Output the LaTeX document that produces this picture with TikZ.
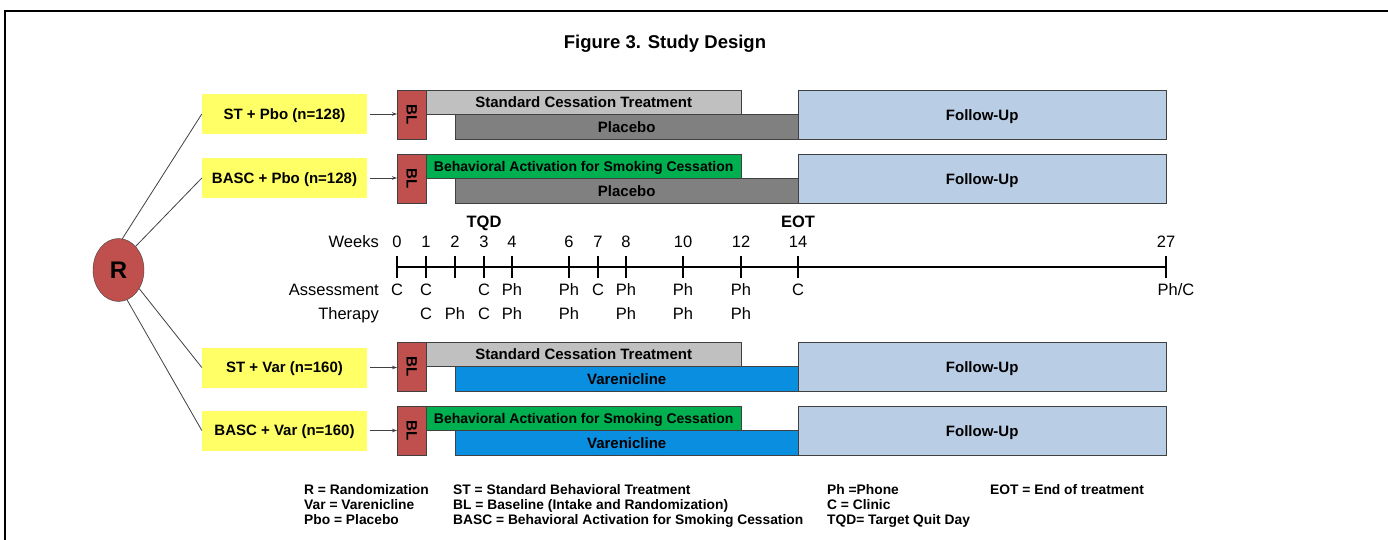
\documentclass[tikz,border=0pt]{standalone}
\usepackage{fontspec}
\setmainfont{Liberation Sans}
\usetikzlibrary{shapes.geometric,arrows.meta,positioning}
\definecolor{blred}{HTML}{C0504D}
\definecolor{armyellow}{HTML}{FFFF66}
\definecolor{stgray}{HTML}{C0C0C0}
\definecolor{pbogray}{HTML}{808080}
\definecolor{bascgreen}{HTML}{00B050}
\definecolor{varblue}{HTML}{0A8FE0}
\definecolor{fublue}{HTML}{B9CDE5}
\definecolor{edge}{HTML}{404040}

\begin{document}
\begin{tikzpicture}[x=1pt, y=-1pt,
    arm/.style={rectangle, fill=armyellow, minimum width=165pt, minimum height=40pt,
                inner sep=0pt, text height=10.8pt, text depth=0pt,
                font=\fontsize{15}{18}\selectfont\bfseries},
    bl/.style={rectangle, draw=edge, fill=blred, minimum width=29pt, minimum height=49pt,
               inner sep=0pt, anchor=north west, font=\fontsize{15}{18}\selectfont\bfseries},
    tx/.style={rectangle, draw=edge, minimum width=315pt, minimum height=24pt,
               inner sep=0pt, anchor=north west, text height=10.8pt, text depth=0pt,
               font=\fontsize{15}{18}\selectfont\bfseries},
    drug/.style={rectangle, draw=edge, minimum width=343pt, minimum height=25pt,
                 inner sep=0pt, anchor=north west, text height=10.8pt, text depth=0pt,
                 font=\fontsize{15}{18}\selectfont\bfseries},
    fu/.style={rectangle, draw=edge, fill=fublue, minimum width=368pt, minimum height=49pt,
               inner sep=0pt, anchor=north west, text height=10.8pt, text depth=0pt,
               font=\fontsize{15}{18}\selectfont\bfseries},
    link/.style={draw=edge, line width=0.8pt},
    wk/.style={inner sep=0pt, text height=11.8pt, text depth=0pt,
               font=\fontsize{16.5}{18}\selectfont},
    wkhead/.style={wk, font=\fontsize{16.5}{18}\selectfont\bfseries},
    legend/.style={align=left, anchor=north west, inner sep=0pt,
                   font=\fontsize{13.8}{15}\selectfont\bfseries},
]
\useasboundingbox (0,0) rectangle (1388,540);
\draw[line width=1.5pt] (5,540) -- (5,11) -- (1388,11);

\node[inner sep=0pt, text height=13.2pt, text depth=0pt,
      font=\fontsize{18.5}{22}\selectfont\bfseries] (title) at (665,42) {Figure 3. Study Design};

\node[ellipse, draw=edge, fill=blred, minimum width=51pt, minimum height=63pt, inner sep=0pt,
      font=\fontsize{24}{27}\selectfont\bfseries] (R) at (118.5,270) {R};

\node[arm] (arm1) at (284.5,114) {ST + Pbo (n=128)};
\node[bl] (bl1) at (397,90) {\rotatebox{-90}{BL}};
\node[tx, fill=stgray] (tx1) at (426,90) {Standard Cessation Treatment};
\node[drug, fill=pbogray] (drug1) at (455,114) {Placebo};
\node[fu] (fu1) at (798,90) {Follow-Up};

\node[arm] (arm2) at (284.5,178) {BASC + Pbo (n=128)};
\node[bl] (bl2) at (397,154) {\rotatebox{-90}{BL}};
\node[tx, fill=bascgreen, font=\fontsize{14}{17}\selectfont\bfseries] (tx2) at (426,154) {Behavioral Activation for Smoking Cessation};
\node[drug, fill=pbogray] (drug2) at (455,178) {Placebo};
\node[fu] (fu2) at (798,154) {Follow-Up};

\node[arm] (arm3) at (284.5,367.5) {ST + Var (n=160)};
\node[bl] (bl3) at (397,342) {\rotatebox{-90}{BL}};
\node[tx, fill=stgray] (tx3) at (426,342) {Standard Cessation Treatment};
\node[drug, fill=varblue] (drug3) at (455,366) {Varenicline};
\node[fu] (fu3) at (798,342) {Follow-Up};

\node[arm] (arm4) at (284.5,430.5) {BASC + Var (n=160)};
\node[bl] (bl4) at (397,406) {\rotatebox{-90}{BL}};
\node[tx, fill=bascgreen, font=\fontsize{14}{17}\selectfont\bfseries] (tx4) at (426,406) {Behavioral Activation for Smoking Cessation};
\node[drug, fill=varblue] (drug4) at (455,430) {Varenicline};
\node[fu] (fu4) at (798,406) {Follow-Up};

\draw[link] (R.83) -- (arm1.west);
\draw[link] (R.54) -- (arm2.west);
\draw[link] (R.-42) -- (arm3.west);
\draw[link] (R.-74) -- (arm4.west);
\foreach \i in {1,2,3,4}
  \draw[link, -{Stealth[length=5pt,width=3.5pt]}, shorten <=3pt] (arm\i.east) -- (bl\i.west |- arm\i.east);

\node[wk, anchor=east] (weeks) at (379,242) {Weeks};
\node[wk, anchor=east] (assess) at (379,290) {Assessment};
\node[wk, anchor=east] (therapy) at (379,314) {Therapy};

\foreach \w/\x in {0/397,1/426,2/455,3/484,4/512,6/569,7/598,8/626,10/683,12/741,14/798,27/1166} {
  \coordinate (t\w) at (\x,267);
  \node[wk] (w\w) at (\x,242) {\w};
}
\draw[line width=2.5pt] (t0) -- (t27);
\foreach \w in {0,1,2,3,4,6,7,8,10,12,14,27}
  \draw[line width=2.5pt] ([yshift=11pt]t\w) -- ([yshift=-11pt]t\w);

\node[wkhead] (tqd) at (484,222) {TQD};
\node[wkhead] (eot) at (798,222) {EOT};

\foreach \w/\v in {0/C,1/C,3/C,4/Ph,6/Ph,7/C,8/Ph,10/Ph,12/Ph,14/C}
  \path (t\w) ++(0,23) node[wk] (as\w) {\v};
\path (t27) ++(10,23) node[wk] (as27) {Ph/C};
\foreach \w/\v in {1/C,2/Ph,3/C,4/Ph,6/Ph,8/Ph,10/Ph,12/Ph}
  \path (t\w) ++(0,47) node[wk] (th\w) {\v};

\node[legend] (leg1) at (304,484.5) {R = Randomization\\Var = Varenicline\\Pbo = Placebo};
\node[legend] (leg2) at (453,484.5) {ST = Standard Behavioral Treatment\\BL = Baseline (Intake and Randomization)\\BASC = Behavioral Activation for Smoking Cessation};
\node[legend] (leg3) at (827,484.5) {Ph =Phone\\C = Clinic\\TQD= Target Quit Day};
\node[legend] (leg4) at (990,484.5) {EOT = End of treatment};

\end{tikzpicture}
\end{document}
